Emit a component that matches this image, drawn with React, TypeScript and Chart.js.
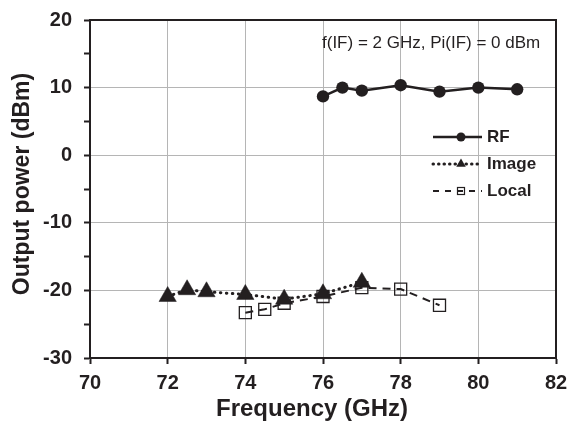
import React, { useEffect, useRef } from 'react';
import { Chart, registerables } from 'chart.js';

Chart.register(...registerables);

// ---- data ----
const seriesNames = ['RF', 'Image', 'Local'];
const rfFreq = [76, 76.5, 77, 78, 79, 80, 81];
const rfPower = [8.7, 10.0, 9.55, 10.35, 9.4, 10.0, 9.75];
const imageFreq = [72, 72.5, 73, 74, 75, 76, 77];
const imagePower = [-20.9, -19.9, -20.2, -20.6, -21.3, -20.5, -18.8];
const localFreq = [74, 74.5, 75, 76, 77, 78, 79];
const localPower = [-23.3, -22.8, -21.9, -20.9, -19.6, -19.8, -22.2];
const xRange = [70, 82];
const yRange = [-30, 20];
const xTitle = 'Frequency (GHz)';
const yTitle = 'Output power (dBm)';
const note = 'f(IF) = 2 GHz, Pi(IF) = 0 dBm';

const INK = '#231f20';
const GRID = '#b5b5b5';
const FONT = "'Liberation Sans', Arial, sans-serif";

const toPts = (xs: number[], ys: number[]) => xs.map((x, i) => ({ x, y: ys[i] }));

const framePlugin = {
  id: 'frame',
  afterDatasetsDraw(chart: any) {
    const { ctx, chartArea: a } = chart;
    ctx.save();
    ctx.strokeStyle = INK;
    ctx.lineWidth = 2;
    ctx.strokeRect(a.left, a.top, a.right - a.left, a.bottom - a.top);
    ctx.restore();
  },
};

const extrasPlugin = {
  id: 'extras',
  afterDraw(chart: any) {
    const { ctx } = chart;
    ctx.save();
    ctx.fillStyle = INK;
    // axis titles
    ctx.font = `bold 24px ${FONT}`;
    ctx.textAlign = 'center';
    ctx.textBaseline = 'middle';
    ctx.fillText(xTitle, 312, 409);
    ctx.save();
    ctx.translate(23, 184);
    ctx.rotate(-Math.PI / 2);
    ctx.font = `bold 23px ${FONT}`;
    ctx.fillText(yTitle, 0, 0);
    ctx.restore();

    // annotation
    ctx.font = `17px ${FONT}`;
    ctx.textBaseline = 'middle';
    ctx.textAlign = 'left';
    ctx.fillText(note, 322, 43);

    // legend
    const x0 = 433, x1 = 482, mx = 461, tx = 487;
    const rows = [137, 164, 191];
    ctx.font = `bold 17px ${FONT}`;
    rows.forEach((y, i) => {
      ctx.save();
      ctx.strokeStyle = INK;
      if (i === 0) {
        ctx.lineWidth = 2.5;
        ctx.setLineDash([]);
      } else if (i === 1) {
        ctx.lineWidth = 3;
        ctx.lineCap = 'round';
        ctx.setLineDash([0.5, 5]);
      } else {
        ctx.lineWidth = 2;
        ctx.setLineDash([6, 6]);
      }
      ctx.beginPath();
      ctx.moveTo(x0, y);
      ctx.lineTo(x1, y);
      ctx.stroke();
      ctx.setLineDash([]);
      ctx.fillStyle = INK;
      if (i === 0) {
        ctx.beginPath();
        ctx.arc(mx, y, 4.5, 0, Math.PI * 2);
        ctx.fill();
      } else if (i === 1) {
        const r = 5.5;
        ctx.beginPath();
        ctx.moveTo(mx, y - r);
        ctx.lineTo(mx + r * 0.866, y + r / 2);
        ctx.lineTo(mx - r * 0.866, y + r / 2);
        ctx.closePath();
        ctx.fill();
      } else {
        ctx.lineWidth = 1.2;
        ctx.strokeRect(mx - 3.5, y - 3.5, 7, 7);
      }
      ctx.restore();
      ctx.fillStyle = INK;
      ctx.fillText(seriesNames[i], tx, y);
    });
    ctx.restore();
  },
};

export default function App() {
  const ref = useRef<HTMLCanvasElement | null>(null);
  useEffect(() => {
    if (!ref.current) return;
    Chart.defaults.font.family = FONT;
    const chart = new Chart(ref.current, {
      type: 'scatter',
      data: {
        datasets: [
          {
            label: seriesNames[0],
            data: toPts(rfFreq, rfPower),
            showLine: true,
            borderColor: INK,
            backgroundColor: INK,
            borderWidth: 2.5,
            pointStyle: 'circle',
            pointRadius: 6.2,
            pointBackgroundColor: INK,
            pointBorderColor: INK,
            pointBorderWidth: 0,
          },
          {
            label: seriesNames[1],
            data: toPts(imageFreq, imagePower),
            showLine: true,
            borderColor: INK,
            borderWidth: 3,
            borderDash: [0.5, 5.5],
            borderCapStyle: 'round',
            pointStyle: 'triangle',
            pointRadius: 10,
            pointBackgroundColor: INK,
            pointBorderColor: INK,
            pointBorderWidth: 0.5,
          },
          {
            label: seriesNames[2],
            data: toPts(localFreq, localPower),
            showLine: true,
            borderColor: INK,
            borderWidth: 2,
            borderDash: [8, 6],
            pointStyle: 'rect',
            pointRadius: 8.5,
            pointBackgroundColor: 'rgba(0,0,0,0)',
            pointBorderColor: INK,
            pointBorderWidth: 1.3,
          },
        ],
      },
      options: {
        responsive: false,
        animation: false,
        layout: { padding: { top: 20, right: 12, left: 0, bottom: 0 } },
        plugins: { legend: { display: false }, tooltip: { enabled: false } },
        scales: {
          x: {
            type: 'linear',
            min: xRange[0],
            max: xRange[1],
            afterFit: (s: any) => {
              s.height = 65;
              s.paddingLeft = 0;
              s.paddingRight = 0;
            },
            ticks: {
              stepSize: 2,
              color: INK,
              font: { size: 20, weight: 'bold' },
              padding: 7,
              maxRotation: 0,
            },
            grid: { color: GRID, lineWidth: 1, tickColor: INK, tickLength: 6, tickWidth: 2 },
            border: { display: true, color: INK, width: 2 },
            title: { display: false },
          },
          y: {
            type: 'linear',
            min: yRange[0],
            max: yRange[1],
            afterFit: (s: any) => {
              s.width = 90;
              s.paddingTop = 0;
              s.paddingBottom = 0;
            },
            ticks: {
              stepSize: 5,
              color: INK,
              font: { size: 20, weight: 'bold' },
              padding: 12,
              callback: (v: any) => (Number(v) % 10 === 0 ? String(v) : ''),
            },
            grid: {
              color: (c: any) => (c.tick && c.tick.value % 10 === 0 ? GRID : 'rgba(0,0,0,0)'),
              lineWidth: 1,
              tickColor: INK,
              tickLength: 6,
              tickWidth: 2,
            },
            border: { display: true, color: INK, width: 2 },
            title: { display: false },
          },
        },
      },
      plugins: [framePlugin, extrasPlugin],
    } as any);
    return () => chart.destroy();
  }, []);
  return (
    <div style={{ position: 'absolute', left: 0, top: 0, width: 568, height: 423, background: '#fff' }}>
      <canvas ref={ref} width={568} height={423} />
    </div>
  );
}
